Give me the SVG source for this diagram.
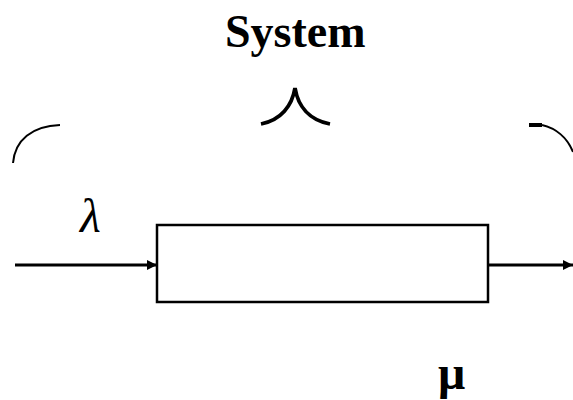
<svg xmlns="http://www.w3.org/2000/svg" width="573" height="400" viewBox="0 0 573 400">
  <style>
    .brace { fill: none; stroke: #000; stroke-linecap: butt; }
    .edge { fill: none; stroke: #000; stroke-width: 3; }
    .box { fill: #fff; stroke: #000; stroke-width: 2.5; }
    .serif { font-family: "Liberation Serif", "Times New Roman", serif; fill: #000; }
  </style>
  <defs>
    <marker id="arrow" viewBox="0 0 10 10" refX="10" refY="5" markerWidth="3.4" markerHeight="3.4" orient="auto" markerUnits="strokeWidth">
      <path d="M0,0 L10,5 L0,10 z" fill="#000"/>
    </marker>
  </defs>

  <!-- title and brace over the whole system -->
  <g id="title">
    <text class="serif" x="225" y="47" font-size="46" font-weight="bold">System</text>
  </g>
  <g id="brace">
    <path class="brace" stroke-width="2" d="M13,163 C15,140 32,126 60,125"/>
    <path class="brace" stroke-width="3.8" d="M261,124 C281,120 292,106 295,88 C298,106 309,120 330,124"/>
    <path class="brace" stroke-width="4" d="M529,125 L542,125"/>
    <path class="brace" stroke-width="2" d="M542,125 C555,128 567,137 573,152"/>
  </g>

  <!-- connectors -->
  <g id="connectors">
    <line class="edge" x1="15" y1="265" x2="157" y2="265" marker-end="url(#arrow)"/>
    <line class="edge" x1="488" y1="265" x2="573" y2="265" marker-end="url(#arrow)"/>
  </g>

  <!-- server node -->
  <g id="server">
    <rect class="box" x="157" y="225" width="331" height="77"/>
  </g>

  <!-- rates -->
  <g id="arrival-rate">
    <text class="serif" x="80" y="232" font-size="48" font-style="italic">λ</text>
  </g>
  <g id="service-rate">
    <text class="serif" x="438" y="389" font-size="48" font-weight="bold">μ</text>
  </g>
</svg>
